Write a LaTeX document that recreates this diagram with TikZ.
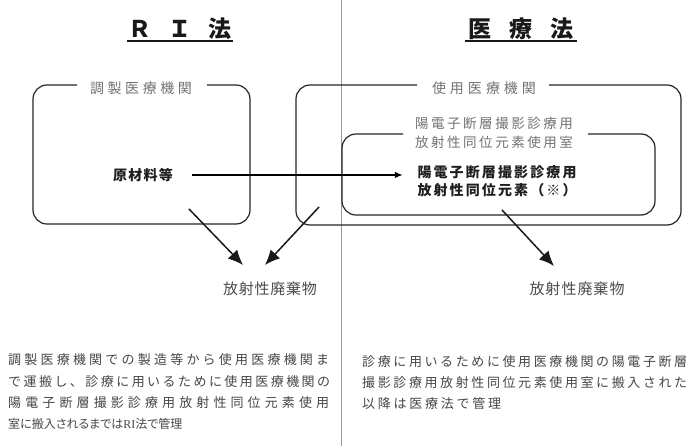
\documentclass[tikz,border=0pt]{standalone}
\usepackage{fontspec}
\setmainfont{Noto Sans CJK JP}
\newfontfamily\cjkprop[RawFeature={+palt}]{Noto Sans CJK JP}
\newfontfamily\latinserif{Liberation Serif}
\usetikzlibrary{arrows.meta}
\makeatletter
\newcommand\spr[2]{\makebox[#1][s]{\let\spr@sep\relax\@tfor\spr@c:=#2\do{\spr@sep\spr@c\def\spr@sep{\hfil}}}}
\makeatother
\begin{document}
\begin{tikzpicture}[x=1pt,y=-1pt,
  frame/.style={draw=black!85, line width=1.2pt, rounded corners=14pt},
  divider/.style={draw=black!40, line width=0.8pt},
  title/.style={font=\fontsize{23}{25}\selectfont\bfseries, inner sep=0pt, text=black!90},
  uline/.style={draw=black!90, line width=1.5pt},
  lbl/.style={text=black!55, font=\fontsize{14}{16}\selectfont, inner sep=0pt},
  boldtxt/.style={text=black!88, font=\fontsize{14}{18}\selectfont\bfseries, inner sep=2pt},
  waste/.style={text=black!70, font=\fontsize{15}{17}\selectfont, inner sep=0pt},
  bodytxt/.style={font=\fontsize{13}{15}\selectfont, text=black!72, inner sep=0pt, anchor=west},
  flow/.style={draw=black, line width=1.5pt, -{Latex[length=8pt,width=6.5pt]}},
  bigarrow/.style={draw=black!90, line width=1.5pt, -{Latex[length=15pt,width=13pt]}}]
\useasboundingbox (0,0) rectangle (688,446);
\fill[white] (0,0) rectangle (688,446);
% divider
\draw[divider] (341,0) -- (341,446);
% titles
\node[title, anchor=base] (t1) at (180,37.5) {Ｒ\hspace{17pt}Ｉ\hspace{17pt}法};
\node[title, anchor=base] (t2) at (521,37.5) {医\hspace{18pt}療\hspace{18pt}法};
\draw[uline, shorten <=-1pt, shorten >=-1pt] ([yshift=-3.5pt]t1.base west) -- ([yshift=-3.5pt]t1.base east);
\draw[uline, shorten <=-3pt, shorten >=-3pt] ([yshift=-3.5pt]t2.base west) -- ([yshift=-3.5pt]t2.base east);
% frames
\draw[frame] (207,85) -- (250,85) -- (250,224) -- (33,224) -- (33,85) -- (77,85);
\draw[frame] (549,85) -- (681,85) -- (681,225) -- (296,225) -- (296,85) -- (417,85);
\draw[frame] (588,134) -- (655,134) -- (655,215) -- (342,215) -- (342,134) -- (403,134);
% labels
\node[lbl] (l1) at (141,88) {\spr{102pt}{調製医療機関}};
\node[lbl] (l2) at (484,88) {\spr{104pt}{使用医療機関}};
\node[lbl, align=center, font=\fontsize{13.5}{19}\selectfont] (l3) at (494,132.5) {\spr{158pt}{陽電子断層撮影診療用}\\\spr{158pt}{放射性同位元素使用室}};
% contents
\node[boldtxt] (raw) at (143,175) {\spr{60pt}{原材料等}};
\node[boldtxt, align=center] (pet) at (497,181) {\spr{159pt}{陽電子断層撮影診療用}\\\spr{159pt}{放射性同位元素（※）}};
\draw[flow, shorten <=17pt, shorten >=12.5pt] (raw.east) -- (raw.east -| pet.west);
% waste
\node[waste] (w1) at (270,289) {\spr{94pt}{放射性廃棄物}};
\node[waste] (w2) at (577,289) {\spr{95pt}{放射性廃棄物}};
\coordinate (s1) at (189,209); \coordinate (e1) at (243,265);
\coordinate (s2) at (319,207); \coordinate (e2) at (265,265);
\coordinate (s3) at (502,210); \coordinate (e3) at (554,266);
\draw[bigarrow] (s1) -- (e1);
\draw[bigarrow] (s2) -- (e2);
\draw[bigarrow] (s3) -- (e3);
% bottom text
\node[bodytxt] (b1) at (8,360) {\spr{321pt}{調製医療機関での製造等から使用医療機関ま}};
\node[bodytxt] (b2) at (8,382) {\spr{322pt}{で運搬し、診療に用いるために使用医療機関の}};
\node[bodytxt] (b3) at (8,403) {\spr{321pt}{陽電子断層撮影診療用放射性同位元素使用}};
\node[bodytxt, font=\fontsize{12}{15}\selectfont] (b4) at (8,424) {\cjkprop 室に搬入されるまでは{\latinserif RI}法で管理};
\node[bodytxt] (c1) at (362,362) {\spr{325pt}{診療に用いるために使用医療機関の陽電子断層}};
\node[bodytxt] (c2) at (362,383) {\spr{325pt}{撮影診療用放射性同位元素使用室に搬入された}};
\node[bodytxt] (c3) at (362,404) {\spr{139pt}{以降は医療法で管理}};
\end{tikzpicture}
\end{document}
